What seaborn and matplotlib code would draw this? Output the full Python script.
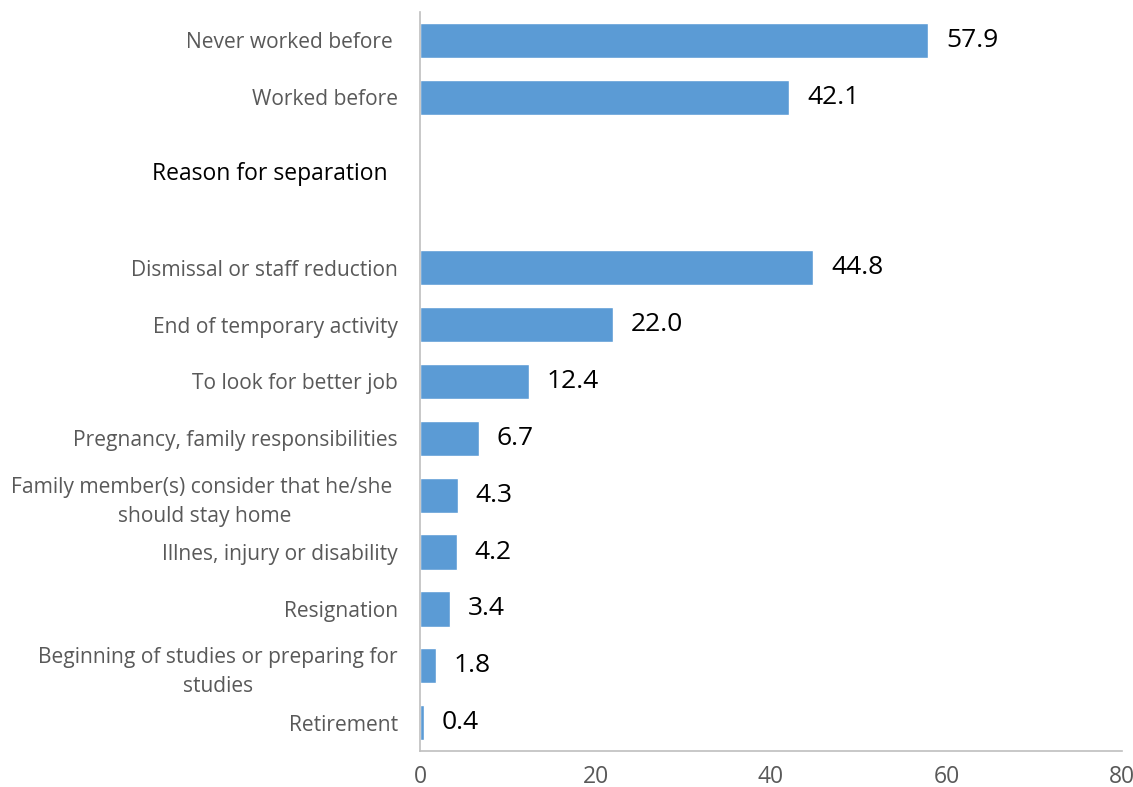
import matplotlib
matplotlib.use("Agg")
import matplotlib.pyplot as plt
import seaborn as sns
import pandas as pd

categories = [
    "Never worked before ",
    "Worked before",
    "Dismissal or staff reduction",
    "End of temporary activity",
    "To look for better job",
    "Pregnancy, family responsibilities",
    "Family member(s) consider that he/she \nshould stay home",
    "Illnes, injury or disability",
    "Resignation",
    "Beginning of studies or preparing for\nstudies",
    "Retirement",
]
values = [57.9, 42.1, 44.8, 22.0, 12.4, 6.7, 4.3, 4.2, 3.4, 1.8, 0.4]
heading = "Reason for separation "
slot_order = categories[:2] + ["_gap1", "_gap2"] + categories[2:]
x_ticks = [0, 20, 40, 60, 80]

sns.set_theme(style="white")
plt.rcParams["font.family"] = ["Open Sans", "DejaVu Sans"]

df = pd.DataFrame({"label": categories, "value": values})

fig = plt.figure(figsize=(11.33, 7.87), dpi=100)
ax = fig.add_axes([420 / 1133, 1 - 751 / 787, (1122 - 420) / 1133, (751 - 12) / 787])

sns.barplot(data=df, x="value", y="label", order=slot_order, orient="h",
            color="#5B9BD5", saturation=1, width=0.62, ax=ax, errorbar=None)

ax.set_xlim(0, 80)
ax.set_ylim(len(slot_order) - 0.5, -0.5)
ax.set_xticks(x_ticks)
ax.set_xticklabels([str(t) for t in x_ticks], fontsize=16.5, color="#595959")
ax.set_yticks(range(len(slot_order)))
ax.set_yticklabels([("" if s.startswith("_gap") else s) for s in slot_order],
                   fontsize=15.1, color="#595959", multialignment="center",
                   linespacing=1.5)
ax.tick_params(axis="both", length=0)
ax.tick_params(axis="y", pad=16)
ax.tick_params(axis="x", pad=10)
ax.set_xlabel("")
ax.set_ylabel("")

for side in ["top", "right"]:
    ax.spines[side].set_visible(False)
for side in ["left", "bottom"]:
    ax.spines[side].set_color("#BFBFBF")
    ax.spines[side].set_linewidth(1.2)

for lab, v in zip(categories, values):
    i = slot_order.index(lab)
    ax.annotate(f"{v:.1f}", xy=(v, i), xytext=(18, 0), textcoords="offset pixels",
                ha="left", va="center", fontsize=19, color="black")

ax.annotate(heading, xy=(0, 2.35), xycoords=ax.get_yaxis_transform(),
            xytext=(-26, 0), textcoords="offset pixels", ha="right", va="center",
            fontsize=16.5, color="black")

fig.savefig("out.png", dpi=100)
